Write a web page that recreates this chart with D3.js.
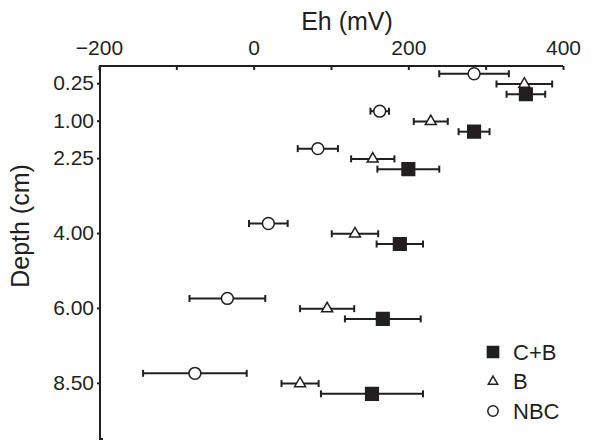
<!DOCTYPE html>
<html>
<head>
<meta charset="utf-8">
<script src="https://cdn.jsdelivr.net/npm/d3@7"></script>
<style>
  body { margin: 0; background: #fff; }
  text { font-family: "Liberation Sans", Arial, Helvetica, sans-serif; fill: #231f20; }
</style>
</head>
<body>
<div id="chart"></div>
<script>
// depth layers (labels) and their slot on the axis
const depthLabels = ["0.25", "1.00", "2.25", "4.00", "6.00", "8.50"];
const depthSlot = [0, 1, 2, 4, 6, 8];

const seriesNames = ["C+B", "B", "NBC"];
// Eh (mV) means and error (+/-)
const ehCB = [352, 285, 200, 189, 167, 153];
const errCB = [25, 20, 40, 30, 49, 66];
const ehB = [350, 229, 154, 131, 95, 60];
const errB = [36, 22, 28, 30, 35, 24];
const ehNBC = [285, 163, 83, 19, -34, -76];
const errNBC = [45, 12, 26, 25, 49, 67];

const xTicks = [-200, -100, 0, 100, 200, 300, 400];

const ink = "#231f20";
const W = 609, H = 443;
const margin = { top: 66, right: 46, bottom: 2, left: 100 };
const width = 563 - margin.left + 1, height = H - margin.top - margin.bottom;

const svg = d3.select("#chart").append("svg")
  .attr("width", W).attr("height", H);
const g = svg.append("g").attr("transform", `translate(${margin.left},${margin.top})`);

var x = d3.scaleLinear().domain([-200, 400]).range([-1, width - 1]);
var y = d3.scaleLinear().domain([-0.46, 9.5]).range([0, height - 2]);
// vertical offset of each series inside a depth layer
var off = d3.scalePoint().domain(["NBC", "B", "C+B"]).range([-9.5, 11]);

var data = [];
depthLabels.forEach((d, i) => {
  data.push({ s: "C+B", slot: depthSlot[i], v: ehCB[i], e: errCB[i] });
  data.push({ s: "B", slot: depthSlot[i], v: ehB[i], e: errB[i] });
  data.push({ s: "NBC", slot: depthSlot[i], v: ehNBC[i], e: errNBC[i] });
});

// x axis (top)
var xa = g.append("g")
  .call(d3.axisTop(x).tickValues(xTicks).tickSize(-4).tickPadding(11)
    .tickFormat((d) => (d % 200 === 0 ? d3.format("")(d) : "")));
xa.select(".domain").attr("d", `M${x(-200)},0H${x(400)}`);
xa.selectAll("line, path").attr("stroke", ink).attr("stroke-width", 2);
xa.selectAll("text").attr("font-size", 21).attr("fill", ink);

// y axis (left)
var ya = g.append("g")
  .call(d3.axisLeft(y).tickValues(depthSlot).tickSize(3).tickPadding(3)
    .tickFormat((d, i) => depthLabels[i]));
ya.select(".domain").attr("d", `M0,0V${height - 2}h3`);
ya.selectAll("line, path").attr("stroke", ink).attr("stroke-width", 2);
ya.selectAll("text").attr("font-size", 21).attr("fill", ink);

svg.append("text").text("Eh (mV)")
  .attr("x", 347).attr("y", 30)
  .attr("text-anchor", "middle").attr("font-size", 25);

svg.append("text").text("Depth (cm)")
  .attr("transform", "translate(29,226) rotate(-90)")
  .attr("text-anchor", "middle").attr("font-size", 25);

// error bars
var bars = g.selectAll(".err").data(data).enter().append("g")
  .attr("class", "err")
  .attr("transform", (d) => `translate(0,${y(d.slot) + off(d.s)})`)
  .attr("stroke", ink).attr("stroke-width", 2);
bars.append("line")
  .attr("x1", (d) => x(d.v - d.e)).attr("x2", (d) => x(d.v + d.e));
bars.append("line")
  .attr("x1", (d) => x(d.v - d.e)).attr("x2", (d) => x(d.v - d.e))
  .attr("y1", -3.5).attr("y2", 3.5);
bars.append("line")
  .attr("x1", (d) => x(d.v + d.e)).attr("x2", (d) => x(d.v + d.e))
  .attr("y1", -3.5).attr("y2", 3.5);

var symType = { "C+B": d3.symbolSquare, B: d3.symbolTriangle, NBC: d3.symbolCircle };
var symSize = { "C+B": 160, B: 52, NBC: 110 };
var symFill = { "C+B": ink, B: "#fff", NBC: "#fff" };

g.selectAll(".pt").data(data).enter().append("path")
  .attr("class", "pt")
  .attr("transform", (d) => `translate(${x(d.v)},${y(d.slot) + off(d.s)})`)
  .attr("d", (d) => d3.symbol().type(symType[d.s]).size(symSize[d.s])())
  .attr("fill", (d) => symFill[d.s])
  .attr("stroke", ink).attr("stroke-width", 1.5);

// legend
var legSize = { "C+B": 125, B: 38, NBC: 85 };
var leg = svg.selectAll(".legend").data(seriesNames).enter().append("g")
  .attr("class", "legend")
  .attr("transform", (d, i) => `translate(493,${352 + i * 29.5})`);
leg.append("path")
  .attr("d", (d) => d3.symbol().type(symType[d]).size(legSize[d])())
  .attr("fill", (d) => symFill[d])
  .attr("stroke", ink).attr("stroke-width", 1.5);
leg.append("text").text((d) => d)
  .attr("x", 20).attr("dy", "0.36em").attr("font-size", 22);
</script>
</body>
</html>
